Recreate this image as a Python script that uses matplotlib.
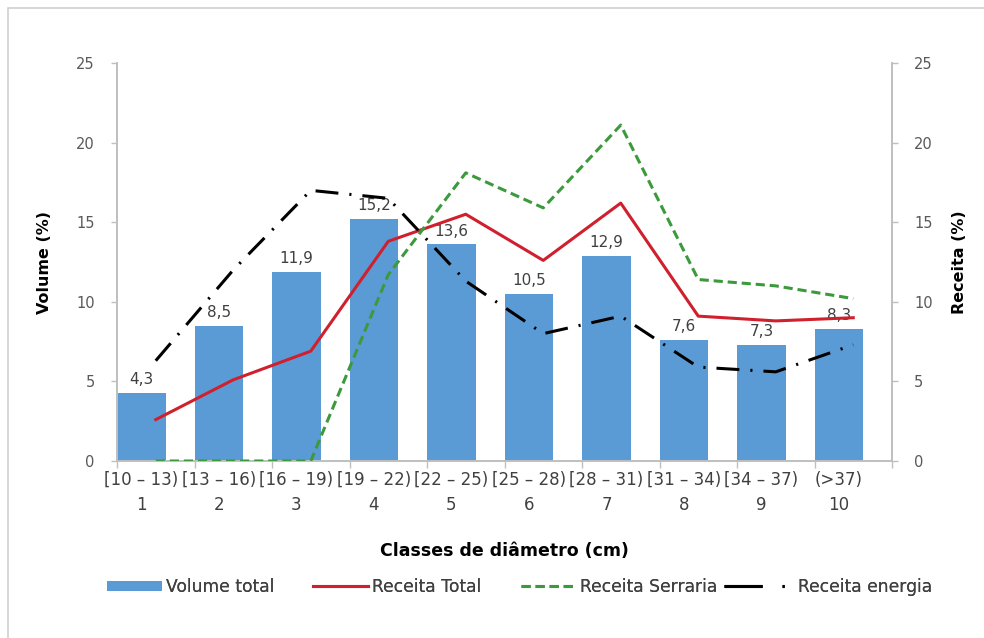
import matplotlib
matplotlib.use("Agg")
import matplotlib.pyplot as plt
from matplotlib.patches import Rectangle
from matplotlib.lines import Line2D
import numpy as np

plt.rcParams['font.family'] = ['DejaVu Sans']

# Diameter classes
classes = ["[10 – 13)", "[13 – 16)", "[16 – 19)", "[19 – 22)", "[22 – 25)",
           "[25 – 28)", "[28 – 31)", "[31 – 34)", "[34 – 37)", "(>37)"]
class_ids = ["1", "2", "3", "4", "5", "6", "7", "8", "9", "10"]

# Share of total volume (%) per class
volume_total = [4.3, 8.5, 11.9, 15.2, 13.6, 10.5, 12.9, 7.6, 7.3, 8.3]

# Revenue shares (%) per class
receita_total = [2.6, 5.1, 6.9, 13.8, 15.5, 12.6, 16.2, 9.1, 8.8, 9.0]
receita_serraria = [0.0, 0.0, 0.0, 11.7, 18.1, 15.9, 21.1, 11.4, 11.0, 10.2]
receita_energia = [6.3, 12.0, 17.0, 16.5, 11.3, 8.0, 9.1, 5.9, 5.6, 7.3]

BAR_COLOR = "#5B9BD5"
RED = "#D0202E"
GREEN = "#3C9A3C"
AXIS_GRAY = "#BFBFBF"
TEXT_GRAY = "#595959"
DARK_TEXT = "#404040"

fig = plt.figure(figsize=(9.84, 6.38), dpi=100)
fig.patch.set_facecolor("white")

# light outer chart-area frame
fig.add_artist(Rectangle((8 / 984, -0.05), 1.2, 1.05 - 8 / 638,
                         transform=fig.transFigure, fill=False,
                         edgecolor="#D0D0D0", linewidth=1.2))

ax = fig.add_axes([117 / 984, 1 - 461 / 638, 775 / 984, 398 / 638])
ax2 = ax.twinx()

n = len(classes)
edges = np.arange(n)
bar_w = 0.63
bar_centers = edges + bar_w / 2
line_x = edges + 0.5

bars = ax.bar(edges, volume_total, width=bar_w, align="edge",
              color=BAR_COLOR, label="Volume total", zorder=2)
for xc, v in zip(bar_centers, volume_total):
    ax.annotate(f"{v:.1f}".replace(".", ","), (xc, v), xytext=(0, 4),
                textcoords="offset points", ha="center", va="bottom",
                fontsize=11, color=DARK_TEXT, zorder=5)

l1, = ax2.plot(line_x, receita_total, color=RED, lw=2.2,
               label="Receita Total", zorder=3)
l2, = ax2.plot(line_x, receita_serraria, color=GREEN, lw=2.2,
               linestyle=(0, (3, 1.6)), label="Receita Serraria", zorder=3)
l3, = ax2.plot(line_x, receita_energia, color="black", lw=2.2,
               linestyle=(0, (7.5, 3.6, 0.7, 3.6)),
               label="Receita energia", zorder=3)
# legend key for the dash-dot series: one long dash followed by a dot
l3_key = Line2D([], [], color="black", lw=2.2,
                linestyle=(0, (12.5, 6.5, 0.7, 30)), label="Receita energia")

for a in (ax, ax2):
    a.set_xlim(0, n)
    a.set_ylim(0, 25)
    a.set_yticks(np.arange(0, 26, 5))
    a.spines["top"].set_visible(False)
    for s in ("left", "right", "bottom"):
        a.spines[s].set_color(AXIS_GRAY)
        a.spines[s].set_linewidth(1.2)
    a.tick_params(axis="y", colors=AXIS_GRAY, labelcolor=TEXT_GRAY,
                  labelsize=10.5, length=4, width=1, pad=12)

# bars underneath, revenue lines on top
ax.set_zorder(0)
ax2.set_zorder(1)
ax2.patch.set_visible(False)

# category boundaries as ticks, labels under bar centres
ax.set_xticks(np.arange(0, n + 1))
ax.set_xticklabels([])
ax.tick_params(axis="x", which="major", colors=AXIS_GRAY, length=5, width=1)
ax.set_xticks(bar_centers, minor=True)
ax.set_xticklabels([f"{c}\n{i}" for c, i in zip(classes, class_ids)],
                   minor=True)
ax.tick_params(axis="x", which="minor", length=0, labelsize=12,
               labelcolor=DARK_TEXT, pad=7)
for t in ax.get_xticklabels(minor=True):
    t.set_linespacing(1.5)

ax.set_ylabel("Volume (%)", fontsize=11.5, fontweight="bold", labelpad=17)
ax2.set_ylabel("Receita (%)", fontsize=11.5, fontweight="bold", labelpad=14)
ax.set_xlabel("Classes de diâmetro (cm)", fontsize=12.5, fontweight="bold",
              labelpad=20)

# legend entries placed individually along the bottom
legend_y = 1 - 587 / 638
for handle, x0, hh, hl in zip([bars, l1, l2, l3_key], [107, 313, 521, 724],
                              [0.45, 0.7, 0.7, 0.7],
                              [3.2, 3.2, 3.2, 4.1]):
    lg = fig.legend(handles=[handle], loc="center left",
                    bbox_to_anchor=(x0 / 984, legend_y), frameon=False,
                    fontsize=12.3, handlelength=hl, handleheight=hh,
                    handletextpad=0.25, borderaxespad=0, borderpad=0,
                    labelcolor=DARK_TEXT)
    fig.add_artist(lg)

fig.savefig("out.png", dpi=100, facecolor="white")
